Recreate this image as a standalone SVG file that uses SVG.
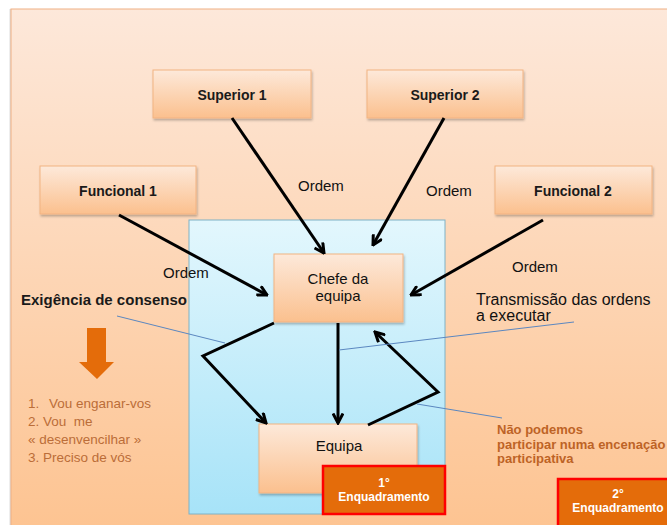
<svg xmlns="http://www.w3.org/2000/svg" width="667" height="525" viewBox="0 0 667 525">
<defs>
<linearGradient id="bg" x1="0" y1="0" x2="0" y2="1">
<stop offset="0" stop-color="#fde8da"/>
<stop offset="1" stop-color="#fdc390"/>
</linearGradient>
<linearGradient id="blue" x1="0" y1="0" x2="0" y2="1">
<stop offset="0" stop-color="#e3f7fd"/>
<stop offset="1" stop-color="#a7e3f8"/>
</linearGradient>
<linearGradient id="node" x1="0" y1="0" x2="0" y2="1">
<stop offset="0" stop-color="#fde9da"/>
<stop offset="1" stop-color="#fbc08e"/>
</linearGradient>
<marker id="arr" viewBox="0 0 12 12" refX="10.5" refY="6" markerWidth="12" markerHeight="12" markerUnits="userSpaceOnUse" orient="auto">
<path d="M1,1 L10.5,6 L1,11" fill="none" stroke="#000" stroke-width="3" stroke-linejoin="miter"/>
</marker>
<filter id="sh" x="-10%" y="-10%" width="130%" height="140%">
<feDropShadow dx="1" dy="2" stdDeviation="1.2" flood-color="#000" flood-opacity="0.25"/>
</filter>
</defs>
<style>
.node{fill:url(#node);stroke:#f2b382;stroke-width:1;filter:url(#sh)}
.title{font-family:"Liberation Sans",Arial,sans-serif;font-size:14px;font-weight:bold;fill:#1a1a1a;text-anchor:middle}
.lbl{font-family:"Liberation Sans",Arial,sans-serif;font-size:15px;fill:#111}
.conn{fill:none;stroke:#000;stroke-width:3;marker-end:url(#arr)}
.note{fill:none;stroke:#5b87c0;stroke-width:1}
.list{font-family:"Liberation Sans",Arial,sans-serif;font-size:13.5px;fill:#bb6d38}
.warn{font-family:"Liberation Sans",Arial,sans-serif;font-size:13px;font-weight:bold;fill:#bd6326}
.enq{fill:#e46c0a;stroke:#ff0000;stroke-width:2.5}
.enqt{font-family:"Liberation Sans",Arial,sans-serif;font-size:12px;font-weight:bold;fill:#fff;text-anchor:middle}
</style>
<rect width="667" height="525" fill="#ffffff"/>
<rect x="9.5" y="9" width="670" height="530" fill="#c8c8c8" opacity="0.6"/>
<rect x="11" y="9" width="670" height="530" fill="url(#bg)" stroke="#efb083" stroke-width="1"/>
<g id="panel">
<rect x="189" y="220" width="256" height="294" fill="url(#blue)" stroke="#7eb2c6" stroke-width="1"/>
</g>
<g id="superior1"><rect class="node" x="153" y="70" width="158" height="48"/><text class="title" x="232" y="100">Superior 1</text></g>
<g id="superior2"><rect class="node" x="367" y="70" width="156" height="48"/><text class="title" x="445" y="100">Superior 2</text></g>
<g id="funcional1"><rect class="node" x="40" y="166" width="156" height="48"/><text class="title" x="118" y="196">Funcional 1</text></g>
<g id="funcional2"><rect class="node" x="495" y="166" width="157" height="48"/><text class="title" x="573" y="196">Funcional 2</text></g>
<g id="chefe"><rect class="node" x="274" y="254" width="129" height="68"/><text class="lbl" x="338" y="284" text-anchor="middle">Chefe da</text><text class="lbl" x="338" y="301" text-anchor="middle">equipa</text></g>
<g id="equipa"><rect class="node" x="259" y="424" width="158" height="69"/><text class="lbl" x="339" y="451" text-anchor="middle">Equipa</text></g>
<g id="connectors">
<path class="conn" d="M232,118 L324,253"/>
<path class="conn" d="M444,118 L373,245"/>
<path class="conn" d="M119,215 L267,295"/>
<path class="conn" d="M543,220 L411,295"/>
<path class="conn" d="M338,323 L338,423"/>
<path class="conn" d="M274,323 L203,356 L266,423"/>
<path class="conn" d="M368,425 L438,392 L375,332"/>
</g>
<g id="notes">
<path class="note" d="M117,316 L225,343"/>
<path class="note" d="M339,350 L574,322"/>
<path class="note" d="M417,404 L502,418"/>
</g>
<g id="labels">
<text class="lbl" x="298" y="191">Ordem</text>
<text class="lbl" x="426" y="196">Ordem</text>
<text class="lbl" x="163" y="278">Ordem</text>
<text class="lbl" x="512" y="272">Ordem</text>
<text x="21" y="305" font-family="Liberation Sans, Arial, sans-serif" font-size="15" font-weight="bold" fill="#1a1a1a">Exigência de consenso</text>
<text x="476" y="305" font-family="Liberation Sans, Arial, sans-serif" font-size="16" fill="#111">Transmissão das ordens</text>
<text x="476" y="321" font-family="Liberation Sans, Arial, sans-serif" font-size="16" fill="#111">a executar</text>
</g>
<g id="downarrow">
<path d="M87,328 L106,328 L106,362 L114,362 L97,379 L79,362 L87,362 Z" fill="#e46c0a"/>
</g>
<g id="list">
<text class="list" x="28" y="408">1.</text>
<text class="list" x="49" y="408">Vou enganar-vos</text>
<text class="list" x="28" y="426" xml:space="preserve">2. Vou  me</text>
<text class="list" x="28" y="444">« desenvencilhar »</text>
<text class="list" x="28" y="462">3. Preciso de vós</text>
</g>
<g id="warning">
<text class="warn" x="497" y="434">Não podemos</text>
<text class="warn" x="497" y="449">participar numa encenação</text>
<text class="warn" x="497" y="463">participativa</text>
</g>
<g id="enq1"><rect class="enq" x="323" y="466" width="122" height="48"/><text class="enqt" x="384" y="487">1°</text><text class="enqt" x="384" y="501">Enquadramento</text></g>
<g id="enq2"><rect class="enq" x="558" y="479" width="120" height="60"/><text class="enqt" x="618" y="498">2°</text><text class="enqt" x="618" y="512">Enquadramento</text></g>
</svg>
